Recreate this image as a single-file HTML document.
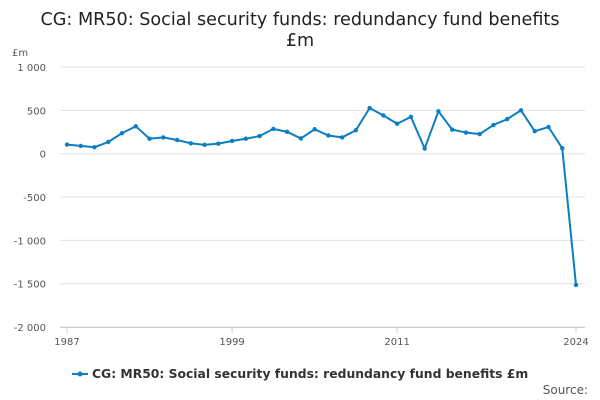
<!DOCTYPE html>
<html><head><meta charset="utf-8"><style>
body{margin:0;background:#fff;font-family:"DejaVu Sans","Liberation Sans",sans-serif;}
svg{display:block}
</style></head><body>
<svg id="c" width="600" height="400">
<text x="300" y="25" text-anchor="middle" font-size="17.6" fill="#222">CG: MR50: Social security funds: redundancy fund benefits</text>
<text x="300" y="46" text-anchor="middle" font-size="17.6" fill="#222">£m</text>
<text x="12" y="56" font-size="10" fill="#555">£m</text>
<g id="grid"></g><g id="xax"></g><g id="series"></g>
<g>
<line x1="72" y1="374" x2="88" y2="374" stroke="#0b7dc2" stroke-width="2"/><circle cx="80" cy="374" r="2.5" fill="#0b7dc2"/>
<text x="92" y="378" font-size="12.35" font-weight="bold" fill="#333">CG: MR50: Social security funds: redundancy fund benefits £m</text></g>
<text x="588" y="394" text-anchor="end" font-size="12" fill="#555">Source:</text>
</svg>
<script>
const years=[];for(let y=1987;y<=2024;y++)years.push(y);
const values=[105,90,75,135,237,316,173,188,158,120,102,116,147,173,203,286,252,176,282,210,188,271,527,441,346,425,60,489,278,244,226,331,399,500,260,308,63,-1515];
const yTicks=[1000,500,0,-500,-1000,-1500,-2000];
const yTickLabels=["1 000","500","0","-500","-1 000","-1 500","-2 000"];
const xTicks=[1987,1999,2011,2024];
const NS="http://www.w3.org/2000/svg";
const xs=y=>67+(y-1987)*(576-67)/(2024-1987);
const ys=v=>153.7-v*260/3000;
function mk(t,a,p){const e=document.createElementNS(NS,t);for(const k in a)e.setAttribute(k,a[k]);p.appendChild(e);return e;}
const g=document.getElementById('grid');
yTicks.forEach((v,i)=>{
 const l=mk('line',{x1:60,x2:585,y1:ys(v),y2:ys(v),stroke:'#e0e0e0','stroke-width':1},g);
 
 
 const t=mk('text',{x:46,y:ys(v)+4,'text-anchor':'end','font-size':10,fill:'#555'},g);
 t.textContent=yTickLabels[i];
 
 
});
const xa=document.getElementById('xax');
const ax=mk('line',{x1:60,x2:585,y1:327.5,y2:327.5,stroke:'#ccc'},xa);


xTicks.forEach(y=>{
 mk('line',{x1:xs(y),x2:xs(y),y1:327,y2:333,stroke:'#ccc'},xa);
 const t=mk('text',{x:xs(y),y:345,'text-anchor':'middle','font-size':10,fill:'#555'},xa);
 t.textContent=y;
 
 
});
const s=document.getElementById('series');
const p=mk('polyline',{points:values.map((v,i)=>xs(years[i])+','+ys(v)).join(' '),fill:'none',stroke:'#0b7dc2','stroke-width':2},s);


values.forEach((v,i)=>{
 const c=mk('circle',{cx:xs(years[i]),cy:ys(v),r:2.2,fill:'#0b7dc2'},s);
 
 
});
</script>
</body></html>
